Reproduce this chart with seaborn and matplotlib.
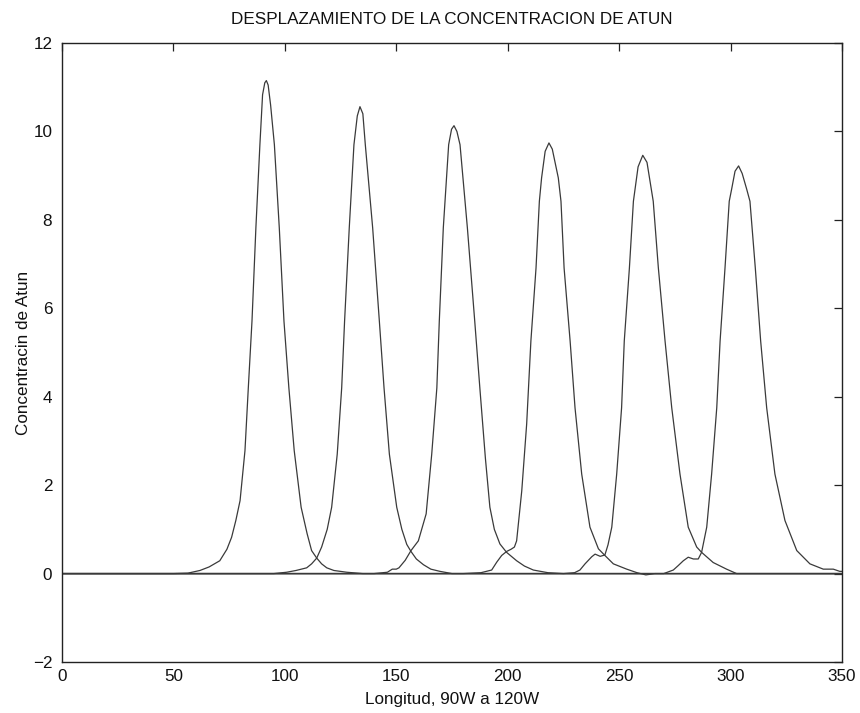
import matplotlib
matplotlib.use("Agg")
import matplotlib.pyplot as plt
import seaborn as sns
import pandas as pd

# ---- data ----
x1 = [0, 50, 56.5, 61.9, 66, 70.8, 74, 76.1, 78, 79.9, 82.1, 83.6, 85.25, 87.0, 88.8, 90.0, 91.0, 91.7,
      92.5, 93.6, 95.3, 97.5, 99.6, 101.8, 104.2, 107.3, 110, 112.0, 114.3, 116.5, 118.8, 122, 127.8, 135, 350]
y1 = [0, 0, 0.01, 0.07, 0.15, 0.29, 0.55, 0.82, 1.2, 1.65, 2.78, 4.2, 5.71, 7.82, 9.7, 10.83, 11.1, 11.15,
      11.05, 10.6, 9.7, 7.82, 5.71, 4.2, 2.78, 1.5, 0.9, 0.52, 0.35, 0.22, 0.13, 0.07, 0.03, 0.0, 0]

x2 = [0, 95, 100.8, 105, 109.8, 112, 114.3, 116.5, 119, 121.0, 123.5, 125.5, 126.8, 128.9, 131.0, 132.5,
      133.7, 135, 136.1, 139.4, 142.4, 144.5, 146.9, 150.2, 152.5, 154.7, 156.6, 159, 162.2, 165.5, 169.6,
      175, 350]
y2 = [0, 0, 0.03, 0.07, 0.13, 0.22, 0.35, 0.6, 1.0, 1.5, 2.7, 4.2, 5.71, 7.82, 9.7, 10.35,
      10.56, 10.4, 9.7, 7.82, 5.71, 4.2, 2.7, 1.5, 1.0, 0.66, 0.5, 0.33, 0.2, 0.1, 0.05,
      0, 0]

x3 = [0, 140, 146, 148.2, 150, 151.2, 154, 156.6, 159.9, 163.4, 165.9, 168.2, 169.3, 171.1, 173.5, 174.8,
      175.9, 177.2, 178.6, 181.9, 185.2, 187.6, 190, 192.0, 194, 196.5, 199.5, 204.0, 207.5, 211.5, 218,
      225, 350]
y3 = [0, 0, 0.03, 0.1, 0.1, 0.13, 0.3, 0.52, 0.74, 1.35, 2.7, 4.2, 5.71, 7.82, 9.7, 10.05,
      10.13, 10.0, 9.7, 7.82, 5.71, 4.13, 2.6, 1.5, 1.0, 0.67, 0.48, 0.29, 0.17, 0.08, 0.02,
      0, 0]

x4 = [0, 180, 188, 192.8, 195.1, 197.3, 199.5, 201.5, 203, 204.0, 206.3, 208.5, 210.4, 212.7, 214.2, 215.2,
      216.8, 218.5, 220, 222.7, 223.9, 225.3, 228.0, 230.2, 233.2, 236.9, 240.7, 243.6, 247.4, 253.4,
      258, 262, 266, 350]
y4 = [0, 0, 0.02, 0.08, 0.26, 0.41, 0.5, 0.55, 0.6, 0.74, 1.87, 3.38, 5.26, 6.91, 8.42, 8.95,
      9.55, 9.74, 9.6, 8.95, 8.42, 6.91, 5.26, 3.75, 2.25, 1.05, 0.56, 0.41, 0.22, 0.1,
      0.02, -0.03, 0, 0]

x5 = [0, 225, 230, 232.4, 234.7, 237.7, 239.2, 241.5, 243.6, 245, 246.7, 248.9, 251.1, 252.3, 254.6, 256.4,
      258.5, 260.6, 262.5, 265.3, 267.6, 270.6, 273.6, 277.3, 281.0, 284.8, 287.0, 292.2, 298.2, 302.7, 350]
y5 = [0, 0, 0.02, 0.08, 0.22, 0.38, 0.44, 0.39, 0.42, 0.65, 1.05, 2.25, 3.75, 5.26, 6.91, 8.42,
      9.2, 9.46, 9.3, 8.42, 6.91, 5.26, 3.75, 2.25, 1.05, 0.6, 0.48, 0.25, 0.1, 0, 0]

x6 = [0, 265, 270, 274.3, 276.5, 278.8, 281.0, 283.3, 285.5, 287.0, 289.3, 291.5, 293.8, 295.3, 297.5, 299.4,
      300.5, 302, 303.6, 305.2, 307.2, 308.7, 311.1, 313.5, 316.2, 319.9, 324.4, 329.7, 335.6, 341.6, 346.1,
      349, 350]
y6 = [0, 0, 0.0, 0.08, 0.18, 0.29, 0.37, 0.33, 0.33, 0.48, 1.05, 2.25, 3.75, 5.26, 6.91, 8.42,
      8.7, 9.1, 9.22, 9.05, 8.7, 8.42, 6.91, 5.26, 3.75, 2.25, 1.2, 0.52, 0.22, 0.1, 0.1,
      0.05, 0.05]

xs = [x1, x2, x3, x4, x5, x6]
ys = [y1, y2, y3, y4, y5, y6]

x_ticks = [0, 50, 100, 150, 200, 250, 300, 350]
y_ticks = [-2, 0, 2, 4, 6, 8, 10, 12]

title = "DESPLAZAMIENTO DE LA CONCENTRACION DE ATUN"
xlabel = "Longitud, 90W a 120W"
ylabel = "Concentracin de Atun"

# ---- build long table ----
rows = []
for i, (xx, yy) in enumerate(zip(xs, ys)):
    for a, b in zip(xx, yy):
        rows.append({"x": a, "y": b, "curva": f"c{i+1}"})
df = pd.DataFrame(rows)

sns.set_style("white")
plt.rcParams["font.family"] = ["Liberation Sans", "DejaVu Sans"]

fig = plt.figure(figsize=(8.6, 7.13), dpi=100)
ax = fig.add_axes([62 / 860, 1 - 662 / 713, 780 / 860, 619 / 713])

line_color = "#3a3a3a"
sns.lineplot(data=df, x="x", y="y", hue="curva", palette=[line_color] * 6,
             estimator=None, sort=False, linewidth=0.9, legend=False, ax=ax)

ax.set_xlim(0, 350)
ax.set_ylim(-2, 12)
ax.set_xticks(x_ticks)
ax.set_yticks(y_ticks)
ax.tick_params(direction="in", length=5.5, width=0.9, color="#222222",
               top=True, right=True, labelsize=12.3, labelcolor="#111111")
ax.tick_params(axis="x", pad=5)
ax.tick_params(axis="y", pad=7)
for s in ax.spines.values():
    s.set_visible(True)
    s.set_color("#222222")
    s.set_linewidth(1.0)

ax.set_title(title, fontsize=12.3, pad=14, color="#111111")
ax.set_xlabel(xlabel, fontsize=12.3, labelpad=6, color="#111111")
ax.set_ylabel(ylabel, fontsize=12.3, labelpad=1, color="#111111")

fig.savefig("out.png", dpi=100)
